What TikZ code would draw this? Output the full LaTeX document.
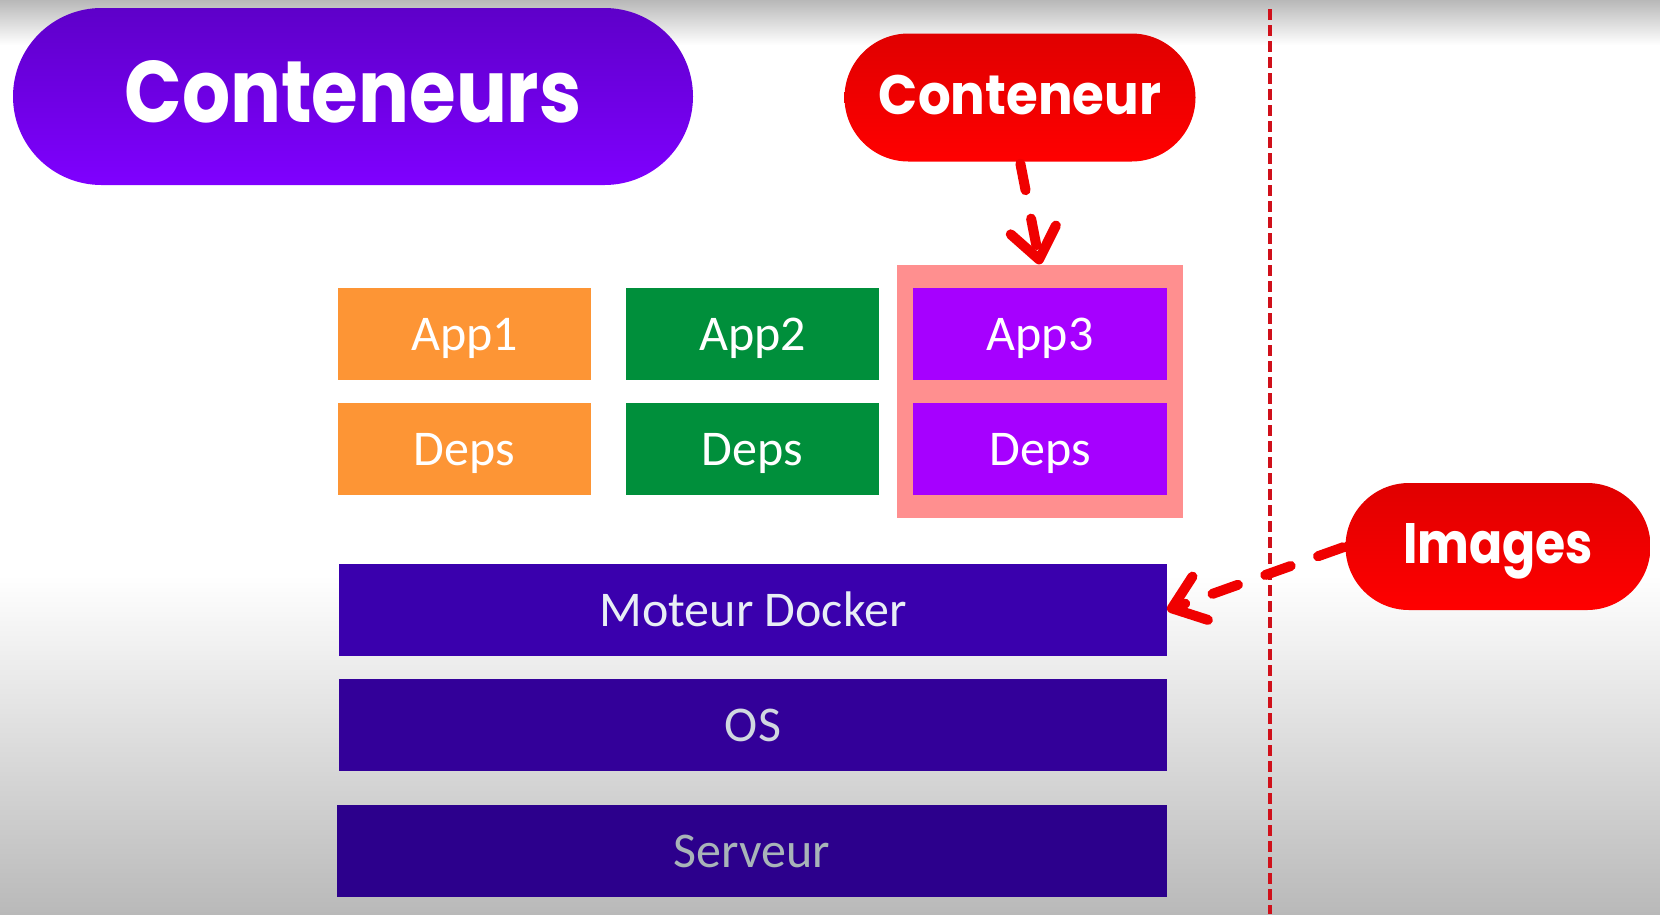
\documentclass[tikz,border=0pt]{standalone}
\usepackage{fontspec}
\usepackage{graphicx}
\setmainfont{Carlito}
\newfontfamily\heavyfont{Poppins}
\usetikzlibrary{arrows.meta,shapes.misc}

\definecolor{bgTop}{HTML}{B8B8B8}
\definecolor{bgGray}{HTML}{B9B9B9}
\definecolor{titleTop}{HTML}{5E00C9}
\definecolor{titleBot}{HTML}{7F00FF}
\definecolor{redTop}{HTML}{E00000}
\definecolor{redBot}{HTML}{FF0000}
\definecolor{orangeBox}{HTML}{FD9535}
\definecolor{greenBox}{HTML}{008F3B}
\definecolor{purpleBox}{HTML}{A600FF}
\definecolor{pinkBox}{HTML}{FF8F8F}
\definecolor{moteurBox}{HTML}{3A00AD}
\definecolor{osBox}{HTML}{330099}
\definecolor{serveurBox}{HTML}{2C008C}
\definecolor{arrowRed}{HTML}{F00000}
\definecolor{lineRed}{HTML}{D0101A}
\definecolor{textA}{HTML}{E8EEF5}
\definecolor{textB}{HTML}{D0D8E0}
\definecolor{textC}{HTML}{A8B4B8}

\tikzset{
  pill/.style={rounded rectangle, inner sep=0pt, text=white, draw=none},
  titlepill/.style={pill, top color=titleTop, bottom color=titleBot},
  redpill/.style={pill, top color=redTop, bottom color=redBot},
  stackbox/.style={rectangle, inner sep=0pt, draw=none, text=white,
    text height=32pt, text depth=0pt,
    font=\fontsize{50}{60}\selectfont},
  appbox/.style={stackbox, minimum width=253pt, minimum height=92pt},
  layerbox/.style={stackbox, minimum width=828pt, minimum height=92pt},
  connector/.style={draw=arrowRed, line width=10pt, line cap=round,
    dash pattern=on 27pt off 29pt,
    -{Straight Barb[length=30pt,width=46pt,round]}},
  divider/.style={draw=lineRed, line width=3.3pt, dash pattern=on 11pt off 5pt}
}

\begin{document}
\begin{tikzpicture}[x=1pt,y=-1pt]
  % background
  \fill[white] (0,0) rectangle (1660,914);
  \shade[top color=bgTop, bottom color=white] (0,0) rectangle (1660,45);
  \shade[top color=white, bottom color=bgGray] (0,575) rectangle (1660,914);
  \useasboundingbox (0,0) rectangle (1660,914);

  % divider
  \coordinate (vtop) at (1270,9);
  \coordinate (vbot) at (1270,914);
  \draw[divider] (vtop) -- (vbot);

  % title pills
  \node[titlepill, minimum width=680pt, minimum height=177pt,
        text height=62pt, text depth=11pt] (title) at (353,96.5)
        {\resizebox{457pt}{62pt}{\heavyfont\bfseries Conteneurs}};
  \node[redpill, minimum width=351pt, minimum height=128pt,
        text height=39.4pt, text depth=6.4pt] (cpill) at (1020,97.5)
        {\resizebox{282pt}{39.4pt}{\heavyfont\bfseries Conteneur}};
  \node[redpill, minimum width=305pt, minimum height=127pt,
        text height=40pt, text depth=7pt] (ipill) at (1498,546.5)
        {\resizebox{190pt}{40pt}{\heavyfont\bfseries Images}};

  % app stacks
  \node[appbox, fill=orangeBox] (app1) at (464.5,334) {App1};
  \node[appbox, fill=orangeBox] (deps1) at (464,449) {Deps};
  \node[appbox, fill=greenBox] (app2) at (752.5,334) {App2};
  \node[appbox, fill=greenBox] (deps2) at (752.5,449) {Deps};
  \node[rectangle, fill=pinkBox, minimum width=286pt, minimum height=253.5pt,
        inner sep=0pt] (pink) at (1040,391.25) {};
  \node[appbox, fill=purpleBox, minimum width=254pt] (app3) at (1040,334) {App3};
  \node[appbox, fill=purpleBox, minimum width=254pt] (deps3) at (1040,449) {Deps};

  % layers
  \node[layerbox, fill=moteurBox, text=textA] (moteur) at (753,610) {Moteur Docker};
  \node[layerbox, fill=osBox, text=textB] (os) at (753,725) {OS};
  \node[layerbox, fill=serveurBox, text=textC, minimum width=830pt] (serveur) at (752,851) {Serveur};

  % connectors
  \draw[connector, shorten <=2pt] (cpill.south) -- (pink.north);
  \draw[connector, shorten <=2pt] (ipill.west) -- (moteur.east);
\end{tikzpicture}
\end{document}
